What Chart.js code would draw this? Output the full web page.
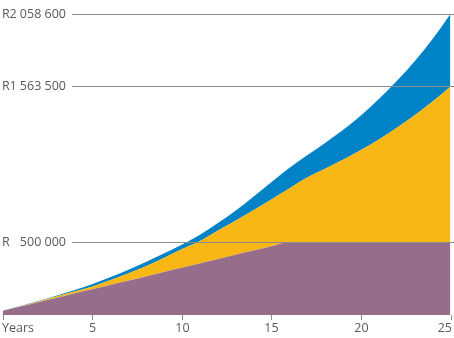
<!DOCTYPE html>
<html>
<head>
<meta charset="utf-8">
<script src="https://cdn.jsdelivr.net/npm/chart.js@4"></script>
<style>
  body { margin: 0; background: #fff; }
  #wrap { width: 454px; height: 338px; }
</style>
</head>
<body>
<div id="wrap"><canvas id="grafico" width="454" height="338"></canvas></div>
<script>
// anos do investimento
const anos = [0, 1, 2, 3, 4, 5, 6, 7, 8, 9, 10, 11, 12, 13, 14, 15, 16, 17, 18, 19, 20, 21, 22, 23, 24, 25];

// total depositado (R)
const contribuicoes = [29000, 58000, 88000, 117000, 147000, 176000, 206000, 235000, 264000, 294000,
  323000, 353000, 382000, 412000, 441000, 470000, 500000, 500000, 500000, 500000,
  500000, 500000, 500000, 500000, 500000, 500000];

// valor acumulado no cenário moderado (R)
const cenarioMedio = [29000, 60000, 93000, 127000, 160000, 193000, 237000, 283000, 333000, 390000,
  450000, 505000, 576000, 645000, 716000, 790000, 866000, 940000, 1000000, 1062000,
  1128000, 1200000, 1280000, 1366000, 1460000, 1563500];

// valor acumulado no cenário alto (R)
const cenarioAlto = [29000, 61000, 96000, 132000, 170000, 210000, 258000, 308000, 362000, 420000,
  480000, 547000, 627000, 713000, 809000, 908000, 1005000, 1093000, 1177000, 1265000,
  1365000, 1477000, 1600000, 1735000, 1888000, 2058600];

// linhas de referência do eixo Y e marcas do eixo X
const marcasY = [500000, 1563500, 2058600];
const marcasX = [0, 5, 10, 15, 20, 25];

const cinza = '#8c8c8c';
const corTexto = '#595959';
const fonte = '12.5px "Open Sans", sans-serif';

// formata 2058600 como "2 058 600"
function formatar(v) {
  return String(v).replace(/\B(?=(\d{3})+(?!\d))/g, ' ');
}

// desenha as linhas de grade por cima das áreas, com os rótulos à esquerda
const eixosPlugin = {
  id: 'eixos',
  afterDatasetsDraw(chart) {
    const ctx = chart.ctx;
    const x = chart.scales.x;
    const y = chart.scales.y;
    ctx.save();
    ctx.font = fonte;
    ctx.textBaseline = 'middle';

    marcasY.forEach(v => {
      const py = Math.round(y.getPixelForValue(v)) + 0.5;
      ctx.strokeStyle = cinza;
      ctx.lineWidth = 1;
      ctx.beginPath();
      ctx.moveTo(72, py);
      ctx.lineTo(chart.width, py);
      ctx.stroke();

      ctx.fillStyle = corTexto;
      ctx.textAlign = 'left';
      ctx.fillText('R', 2, py);
      ctx.textAlign = 'right';
      ctx.fillText(formatar(v), 66, py);
    });

    // marcas e rótulos do eixo X
    const base = chart.chartArea.bottom;
    marcasX.forEach(v => {
      const px = Math.round(x.getPixelForValue(v)) + 0.5;
      ctx.strokeStyle = cinza;
      ctx.beginPath();
      ctx.moveTo(px, base);
      ctx.lineTo(px, base + 5);
      ctx.stroke();

      ctx.fillStyle = corTexto;
      const texto = v === 0 ? 'Years' : String(v);
      if (v === 0) {
        ctx.textAlign = 'left';
        ctx.fillText(texto, 2, base + 13);
      } else if (px + ctx.measureText(texto).width / 2 > chart.width - 2) {
        // o último rótulo não pode sair da tela
        ctx.textAlign = 'right';
        ctx.fillText(texto, chart.width - 2, base + 13);
      } else {
        ctx.textAlign = 'center';
        ctx.fillText(texto, px, base + 13);
      }
    });
    ctx.restore();
  }
};

const serie = (dados, cor, fill) => ({
  data: anos.map((a, i) => ({ x: a, y: dados[i] })),
  backgroundColor: cor,
  borderWidth: 0,
  pointRadius: 0,
  fill: fill,
  cubicInterpolationMode: 'monotone'
});

new Chart(document.getElementById('grafico'), {
  type: 'line',
  data: {
    datasets: [
      serie(contribuicoes, '#966e8c', 'origin'),
      serie(cenarioMedio, '#f9b715', '-1'),
      serie(cenarioAlto, '#0082c6', '-1')
    ]
  },
  options: {
    responsive: false,
    animation: false,
    layout: { padding: { left: 2.5, right: 3.5, top: 14, bottom: 23 } },
    plugins: { legend: { display: false }, tooltip: { enabled: false } },
    scales: {
      x: { type: 'linear', min: 0, max: 25, display: false },
      y: { min: 0, max: 2058600, display: false }
    }
  },
  plugins: [eixosPlugin]
});
</script>
</body>
</html>
